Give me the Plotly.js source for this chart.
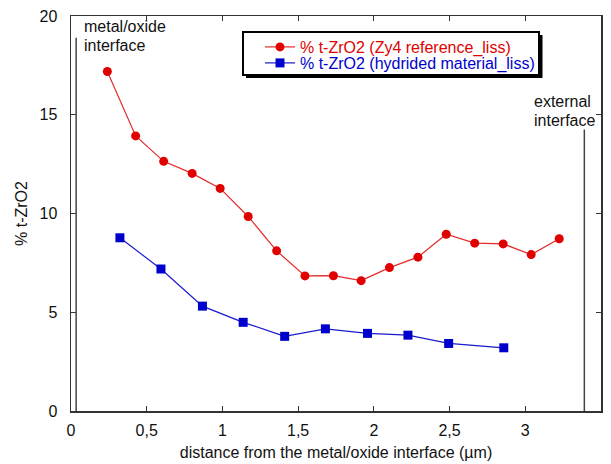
<!DOCTYPE html>
<html>
<head>
<meta charset="utf-8">
<script src="https://cdn.plot.ly/plotly-3.0.1.min.js"></script>
<style>html,body{margin:0;padding:0;background:#fff;}#chart{width:611px;height:464px;}</style>
</head>
<body>
<div id="chart"></div>
<script>
// Data
var zy4X = [0.24, 0.427, 0.612, 0.80, 0.985, 1.17, 1.358, 1.545, 1.733, 1.916, 2.103, 2.291, 2.478, 2.666, 2.854, 3.039, 3.224];
var zy4Y = [17.19, 13.93, 12.64, 12.03, 11.27, 9.85, 8.11, 6.84, 6.85, 6.60, 7.26, 7.79, 8.95, 8.50, 8.46, 7.92, 8.72];
var hydX = [0.323, 0.594, 0.868, 1.137, 1.411, 1.680, 1.958, 2.225, 2.494, 2.858];
var hydY = [8.77, 7.19, 5.31, 4.49, 3.78, 4.16, 3.93, 3.84, 3.42, 3.20];
var seriesNames = ['% t-ZrO2 (Zy4 reference_liss)', '% t-ZrO2 (hydrided material_liss)'];
var xTickVals = [0, 0.5, 1, 1.5, 2, 2.5, 3, 3.5];
var yTickVals = [0, 5, 10, 15, 20];
var interfaceX = [0.034, 3.39];
var interfaceTop = [18.9, 14.25];
var interfaceLines = [['metal/oxide', 'interface'], ['external', 'interface']];

var FONT = 'Liberation Sans, Arial, Helvetica, sans-serif';
var RED = '#e00000', BLUE = '#0000cc';
var FS = 16;

var traces = [
  {x: zy4X, y: zy4Y, type: 'scatter', mode: 'lines+markers',
   name: '<span style="color:' + RED + '">' + seriesNames[0] + '</span>',
   legend: 'legend',
   line: {color: '#e42a2a', width: 1.2},
   marker: {symbol: 'circle', size: 9, color: RED}},
  {x: hydX, y: hydY, type: 'scatter', mode: 'lines+markers',
   name: '<span style="color:' + BLUE + '">' + seriesNames[1] + '</span>',
   legend: 'legend2',
   line: {color: '#1a1acc', width: 1.2},
   marker: {symbol: 'square', size: 9, color: BLUE}}
];

var axisCommon = {
  showgrid: false, zeroline: false, showline: true, linecolor: '#333', linewidth: 1.5,
  mirror: 'ticks', ticks: 'inside', ticklen: 5, tickwidth: 1, tickcolor: '#333',
  tickfont: {family: FONT, size: FS, color: '#111'}
};

// plot area: l=71, width 530; t=16, height 395
function px2paperX(p) { return (p - 71) / 530; }
function px2paperY(p) { return (411 - p) / 395; }

var legendCommon = {xanchor: 'left', yanchor: 'middle', bgcolor: 'rgba(0,0,0,0)', borderwidth: 0,
  font: {family: FONT, size: FS}};

var layout = {
  width: 611, height: 464,
  margin: {l: 71, r: 10, t: 16, b: 53},
  paper_bgcolor: '#fff', plot_bgcolor: '#fff',
  separators: ',.',
  font: {family: FONT, size: FS, color: '#111'},
  showlegend: true,
  legend: Object.assign({}, legendCommon, {x: px2paperX(260), y: px2paperY(47)}),
  legend2: Object.assign({}, legendCommon, {x: px2paperX(260), y: px2paperY(63)}),
  xaxis: Object.assign({}, axisCommon, {
    range: [0, 3.5], tickmode: 'array', tickvals: xTickVals, ticklabelstandoff: 4,
    title: {text: 'distance from the metal/oxide interface (µm)', font: {family: FONT, size: FS, color: '#111'}, standoff: 9}
  }),
  yaxis: Object.assign({}, axisCommon, {
    range: [0, 20], tickmode: 'array', tickvals: yTickVals, ticklabelstandoff: 9,
    title: {text: '\u00a0\u00a0\u00a0\u00a0\u00a0\u00a0\u00a0\u00a0\u00a0\u00a0% t-ZrO2', font: {family: FONT, size: FS, color: '#111'}, standoff: 8}
  }),
  shapes: [
    // legend shadow and box
    {type: 'rect', xref: 'paper', yref: 'paper', layer: 'above',
     x0: px2paperX(246), x1: px2paperX(542.5), y0: px2paperY(78), y1: px2paperY(35),
     fillcolor: '#000', line: {width: 0}},
    {type: 'rect', xref: 'paper', yref: 'paper', layer: 'above',
     x0: px2paperX(243), x1: px2paperX(539), y0: px2paperY(75), y1: px2paperY(32),
     fillcolor: '#fff', line: {color: '#000', width: 2}}
  ],
  annotations: []
};

for (var i = 0; i < interfaceX.length; i++) {
  layout.shapes.push({type: 'line', xref: 'x', yref: 'y', x0: interfaceX[i], x1: interfaceX[i],
    y0: 0, y1: interfaceTop[i], line: {color: '#444', width: 1.5}});
}
var labelX = [0.0727, 3.045];
var labelY = [[19.46, 18.5], [15.66, 14.73]];
for (var k = 0; k < interfaceLines.length; k++) {
  for (var j = 0; j < interfaceLines[k].length; j++) {
    layout.annotations.push({xref: 'x', yref: 'y', x: labelX[k], y: labelY[k][j],
      xanchor: 'left', yanchor: 'middle', text: interfaceLines[k][j], showarrow: false,
      font: {family: FONT, size: FS, color: '#111'}});
  }
}

Plotly.newPlot('chart', traces, layout, {displayModeBar: false, staticPlot: true});
</script>
</body>
</html>
